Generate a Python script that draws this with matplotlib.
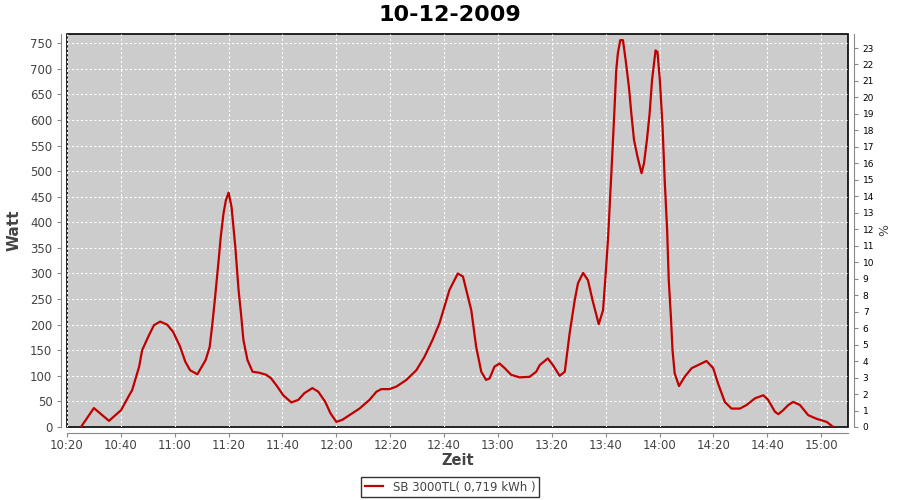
import pandas as pd
import matplotlib
matplotlib.use("Agg")
import matplotlib.pyplot as plt
import matplotlib.dates as mdates

# minutes after 10:20 on 10-12-2009, and measured power in watt
start = "2009-12-10 10:20"
minutes = [5.2, 10.0, 15.6, 20.1, 23.0, 24.2, 26.8, 27.9, 30.5, 32.3, 34.6, 37.2,
           39.4, 42.0, 43.9, 45.7, 48.4, 51.5, 53.0, 54.0, 55.0, 56.2, 57.1, 58.1,
           59.0, 60.0, 61.1, 62.5, 63.7, 64.6, 65.5, 67.0, 68.9, 71.4, 74.0,
           75.8, 78.1, 80.3, 83.3, 85.9, 88.1, 91.1, 93.3, 95.9, 97.8, 100.0, 102.2,
           104.8, 108.6, 112.3, 114.9, 116.7, 119.7, 122.3, 126.0, 129.7, 132.7,
           135.7, 138.3, 140.5, 142.0, 145.1, 147.0, 150.1, 151.9, 153.8, 155.6,
           156.9, 158.7, 160.6, 162.5, 164.9, 168.0, 171.7, 174.2, 175.5, 178.5,
           180.4, 182.9, 184.8, 186.6, 188.5, 189.7, 191.6, 193.4, 195.1, 197.4,
           199.0, 200.0, 200.9, 201.6, 202.4, 203.2, 203.9, 204.5, 205.4, 206.4,
           207.4, 208.6, 209.5, 210.5, 211.8, 213.3, 214.2, 215.3, 216.3, 217.2,
           218.5, 219.2, 220.1, 221.1, 221.9, 222.8, 223.4, 224.2, 224.8, 225.6,
           227.2, 229.3, 231.9, 234.3, 237.4, 239.9, 241.7, 244.2, 246.7, 249.8,
           252.3, 255.4, 258.5, 260.3, 262.8, 264.1, 265.9, 267.8, 269.6, 272.1,
           275.2, 278.3, 282.0, 284.5]
watt = [0, 37, 12, 33, 61, 72, 118, 150, 180, 199, 206, 200,
        186, 157, 128, 111, 103, 131, 157, 203, 254, 320, 372, 417,
        443, 458, 430, 352, 268, 222, 170, 131, 108, 106, 102,
        95, 79, 62, 48, 53, 66, 76, 69, 49, 27, 10, 14,
        23, 36, 53, 69, 74, 74, 79, 92, 111, 137,
        170, 203, 242, 268, 300, 294, 228, 157, 108, 92,
        95, 118, 124, 115, 102, 97, 98, 108, 121, 134,
        121, 100, 108, 183, 248, 281, 301, 287, 248, 201,
        228, 300, 372, 443, 528, 615, 697, 730, 756, 756,
        717, 665, 613, 561, 528, 496, 515, 561, 613, 678,
        736, 733, 678, 587, 482, 385, 287, 215, 150, 105,
        80, 98, 115, 121, 129, 115, 85, 49, 36, 36,
        43, 56, 62, 53, 30, 25, 33, 43, 49, 43,
        23, 16, 10, 0]
series_label = "SB 3000TL( 0,719 kWh )"
title = "10-12-2009"

times = pd.to_datetime(start) + pd.to_timedelta(minutes, unit="min")
t0 = pd.to_datetime(start)
t1 = t0 + pd.Timedelta(minutes=290)

fig = plt.figure(figsize=(9, 5), dpi=100)
ax = fig.add_axes([0.0744, 0.146, 0.868, 0.786])
ax.set_facecolor("#cccccc")
ax.patch.set_edgecolor("black")
ax.patch.set_linewidth(1.2)

ax.plot(times, watt, color="#c00000", lw=1.6, label=series_label, zorder=3)
ax.set_xlim(t0, t1)
ax.set_ylim(0, 768)
ax.set_yticks(range(0, 751, 50))
ax.xaxis.set_major_locator(mdates.MinuteLocator(byminute=[0, 20, 40]))
ax.xaxis.set_major_formatter(mdates.DateFormatter("%H:%M"))
ax.grid(True, color="white", linestyle=(0, (2, 2)), lw=0.8)

for s in ["top", "right"]:
    ax.spines[s].set_visible(False)
for s in ["left", "bottom"]:
    ax.spines[s].set_position(("outward", 4))
    ax.spines[s].set_color("#888888")
ax.tick_params(colors="#888888", labelcolor="#444444", labelsize=8.5, length=3)
ax.tick_params(axis="x", pad=1.5)

ax2 = ax.twinx()
ax2.set_ylim(0, 23.85)
ax2.set_yticks(range(0, 24))
for s in ["top", "left", "bottom"]:
    ax2.spines[s].set_visible(False)
ax2.spines["right"].set_position(("outward", 4))
ax2.spines["right"].set_color("#888888")
ax2.tick_params(colors="#888888", labelcolor="black", labelsize=6.5, length=3)
ax2.set_ylabel("%", fontsize=9, color="#444444", labelpad=3)

ax.set_ylabel("Watt", fontsize=11, fontweight="bold", color="#444444", labelpad=6)
ax.set_xlabel("Zeit", fontsize=10.5, fontweight="bold", color="#444444", labelpad=1)
fig.suptitle(title, x=0.5, y=0.99, fontsize=16, fontweight="bold")

leg = fig.legend(loc="lower center", bbox_to_anchor=(0.5, -0.006), fontsize=8.5,
                 frameon=True, fancybox=False, edgecolor="black",
                 handlelength=1.6, borderpad=0.3)
leg.get_frame().set_linewidth(1.0)
for txt in leg.get_texts():
    txt.set_color("#444444")

fig.savefig("out.png", dpi=100)
